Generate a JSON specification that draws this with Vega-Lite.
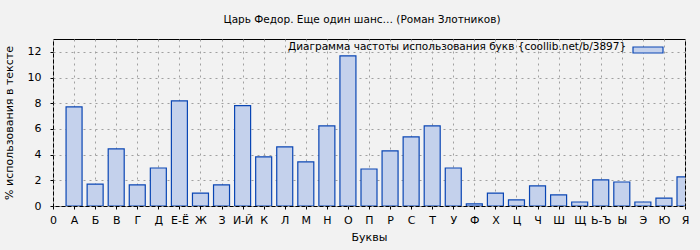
{
  "$schema": "https://vega.github.io/schema/vega-lite/v6.json",
  "autosize": "none",
  "width": 632,
  "height": 167,
  "padding": {"left": 53, "top": 39, "right": 15, "bottom": 44},
  "background": "#f2f2f2",
  "title": {
    "text": "Царь Федор. Еще один шанс… (Роман Злотников)",
    "fontSize": 10.5,
    "font": "DejaVu Sans",
    "fontWeight": "normal",
    "color": "#000000",
    "offset": 14,
    "dx": -7
  },
  "config": {
    "font": "DejaVu Sans",
    "view": {"stroke": "#000000", "strokeWidth": 1},
    "axis": {
      "domain": false,
      "tickColor": "#000000",
      "tickSize": 3,
      "labelFont": "DejaVu Sans",
      "labelFontSize": 11,
      "labelColor": "#000000",
      "titleFont": "DejaVu Sans",
      "titleFontSize": 11,
      "titleFontWeight": "normal",
      "titleColor": "#000000",
      "grid": true,
      "gridColor": "#a0a0a0",
      "gridDash": [2, 4],
      "gridWidth": 1
    }
  },
  "data": {
    "values": [
      {"letter": "А", "value": 7.71, "series": "s"},
      {"letter": "Б", "value": 1.71, "series": "s"},
      {"letter": "В", "value": 4.44, "series": "s"},
      {"letter": "Г", "value": 1.64, "series": "s"},
      {"letter": "Д", "value": 2.96, "series": "s"},
      {"letter": "Е-Ё", "value": 8.18, "series": "s"},
      {"letter": "Ж", "value": 1.01, "series": "s"},
      {"letter": "З", "value": 1.64, "series": "s"},
      {"letter": "И-Й", "value": 7.82, "series": "s"},
      {"letter": "К", "value": 3.82, "series": "s"},
      {"letter": "Л", "value": 4.6, "series": "s"},
      {"letter": "М", "value": 3.43, "series": "s"},
      {"letter": "Н", "value": 6.23, "series": "s"},
      {"letter": "О", "value": 11.69, "series": "s"},
      {"letter": "П", "value": 2.88, "series": "s"},
      {"letter": "Р", "value": 4.29, "series": "s"},
      {"letter": "С", "value": 5.38, "series": "s"},
      {"letter": "Т", "value": 6.23, "series": "s"},
      {"letter": "У", "value": 2.96, "series": "s"},
      {"letter": "Ф", "value": 0.16, "series": "s"},
      {"letter": "Х", "value": 1.01, "series": "s"},
      {"letter": "Ц", "value": 0.47, "series": "s"},
      {"letter": "Ч", "value": 1.56, "series": "s"},
      {"letter": "Ш", "value": 0.86, "series": "s"},
      {"letter": "Щ", "value": 0.31, "series": "s"},
      {"letter": "Ь-Ъ", "value": 2.03, "series": "s"},
      {"letter": "Ы", "value": 1.87, "series": "s"},
      {"letter": "Э", "value": 0.31, "series": "s"},
      {"letter": "Ю", "value": 0.62, "series": "s"},
      {"letter": "Я", "value": 2.26, "series": "s"}
    ]
  },
  "mark": {
    "type": "bar",
    "size": 16,
    "clip": true,
    "fill": "#c4d1ec",
    "strokeWidth": 1.2
  },
  "encoding": {
    "x": {
      "field": "letter",
      "type": "ordinal",
      "sort": null,
      "scale": {
        "type": "point",
        "padding": 0,
        "domain": ["0", "А", "Б", "В", "Г", "Д", "Е-Ё", "Ж", "З", "И-Й", "К", "Л", "М", "Н", "О", "П", "Р", "С", "Т", "У", "Ф", "Х", "Ц", "Ч", "Ш", "Щ", "Ь-Ъ", "Ы", "Э", "Ю", "Я"]
      },
      "axis": {"title": "Буквы", "labelAngle": 0, "labelPadding": 5, "titlePadding": 6}
    },
    "y": {
      "field": "value",
      "type": "quantitative",
      "scale": {"domain": [0, 13], "nice": false},
      "axis": {
        "title": "% использования в тексте",
        "values": [0, 2, 4, 6, 8, 10, 12],
        "labelPadding": 9,
        "titlePadding": 13
      }
    },
    "stroke": {
      "field": "series",
      "type": "nominal",
      "scale": {"range": ["#0a46b4"]},
      "legend": {
        "title": "Диаграмма частоты использования букв {coollib.net/b/3897}",
        "titleOrient": "left",
        "titleFont": "DejaVu Sans",
        "titleFontSize": 10.5,
        "titleFontWeight": "normal",
        "titleColor": "#000000",
        "titleAnchor": "middle",
        "titleBaseline": "middle",
        "titlePadding": 10,
        "titleLimit": 600,
        "labelExpr": "''",
        "orient": "none",
        "legendX": 235,
        "legendY": 0,
        "padding": 0,
        "symbolType": "M-1.5,-0.3L1.5,-0.3L1.5,0.3L-1.5,0.3Z",
        "symbolSize": 400,
        "symbolFillColor": "#c4d1ec",
        "symbolStrokeWidth": 1.2
      }
    }
  }
}
